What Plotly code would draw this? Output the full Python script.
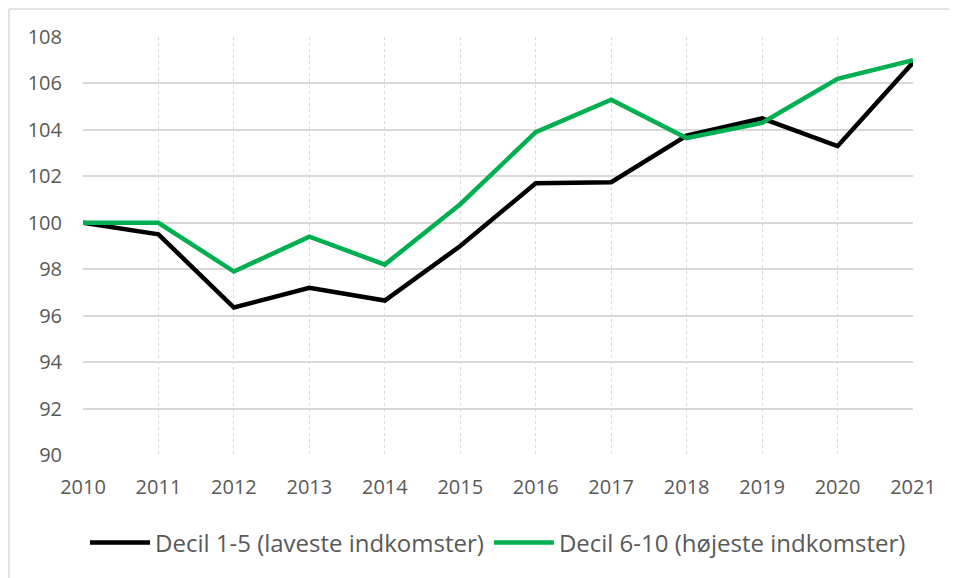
import plotly.graph_objects as go

years = [2010, 2011, 2012, 2013, 2014, 2015, 2016, 2017, 2018, 2019, 2020, 2021]
decil_1_5 = [100.0, 99.5, 96.35, 97.2, 96.65, 99.0, 101.7, 101.75, 103.75, 104.5, 103.3, 106.9]
decil_6_10 = [100.0, 100.0, 97.9, 99.4, 98.2, 100.8, 103.9, 105.3, 103.65, 104.3, 106.2, 107.0]
y_ticks = [90, 92, 94, 96, 98, 100, 102, 104, 106, 108]

fig = go.Figure()
fig.add_trace(go.Scatter(x=years, y=decil_1_5, mode="lines", name="Decil 1-5 (laveste indkomster)",
                         line=dict(color="#000000", width=4.5)))
fig.add_trace(go.Scatter(x=years, y=decil_6_10, mode="lines", name="Decil 6-10 (højeste indkomster)",
                         line=dict(color="#00B050", width=4.5)))

# outer chart border (top and left edges only show in the crop)
border = dict(color="#d9d9d9", width=1.5)
fig.add_shape(type="line", xref="paper", yref="paper", x0=-0.0892, x1=1.1, y0=1.067, y1=1.067, line=border)
fig.add_shape(type="line", xref="paper", yref="paper", x0=-0.0892, x1=-0.0892, y0=-0.4, y1=1.067, line=border)

# page body has an 8px margin, so the figure is kept a bit smaller
fig.update_layout(
    width=949, height=570,
    margin=dict(l=75, r=44, t=29, b=123, autoexpand=False),
    paper_bgcolor="white", plot_bgcolor="white",
    font=dict(family="Open Sans, Liberation Sans, sans-serif", color="#595959", size=20),
    showlegend=True,
    legend=dict(orientation="h", x=0.5, xanchor="center", y=-0.21, yanchor="middle",
                font=dict(size=24, color="#595959"), itemwidth=60),
)
fig.update_xaxes(range=[2010, 2021], tickvals=years, showgrid=True, gridcolor="#d9d9d9",
                 griddash="dot", gridwidth=1.2, zeroline=False, showline=False,
                 ticks="", ticklabelstandoff=18, automargin=False)
fig.update_yaxes(range=[90, 108], tickvals=y_ticks, showgrid=True, gridcolor="#d9d9d9",
                 gridwidth=1.5, zeroline=False, showline=False, ticks="", ticklabelstandoff=20,
                 automargin=False)

fig.write_html("out.html")
